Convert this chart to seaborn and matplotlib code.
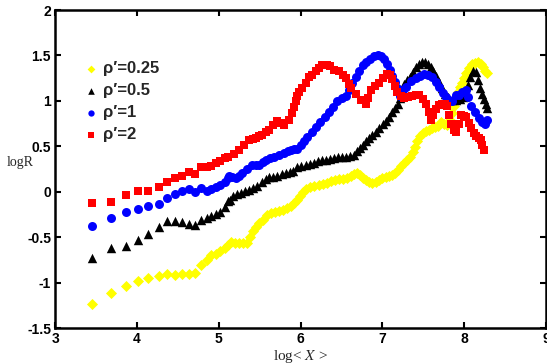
import numpy as np
import pandas as pd
import matplotlib
matplotlib.use('Agg')
import matplotlib.pyplot as plt
import seaborn as sns
from matplotlib.ticker import FormatStrFormatter

sns.set_theme(style='ticks')
plt.rcParams['font.family'] = ['Liberation Sans', 'DejaVu Sans']
plt.rcParams['axes.unicode_minus'] = False
plt.rcParams['mathtext.fontset'] = 'stix'

# ---------------- data ----------------
# sparse part shared by all four curves
x_sparse = [3.45, 3.68, 3.86, 4.01, 4.14, 4.27, 4.37, 4.47, 4.55, 4.63, 4.71, 4.78,
            4.85, 4.91, 4.96, 5.02, 5.07, 5.11]
ys_025 = [-1.23, -1.11, -1.04, -0.98, -0.95, -0.92, -0.90, -0.91, -0.90, -0.90, -0.89,
          -0.80, -0.745, -0.69, -0.68, -0.65, -0.62, -0.58]
ys_05 = [-0.73, -0.62, -0.59, -0.525, -0.46, -0.39, -0.32, -0.32, -0.33, -0.35, -0.36,
         -0.31, -0.29, -0.26, -0.24, -0.22, -0.165, -0.10]
ys_1 = [-0.37, -0.29, -0.22, -0.19, -0.15, -0.13, -0.07, -0.02, 0.01, 0.03, 0.0,
        0.04, 0.01, 0.03, 0.05, 0.08, 0.11, 0.15]
ys_2 = [-0.12, -0.11, -0.03, 0.01, 0.01, 0.05, 0.11, 0.15, 0.18, 0.22, 0.20,
        0.27, 0.27, 0.28, 0.315, 0.34, 0.37, 0.385]

# dense part, rho'=0.25
x_025 = [5.155, 5.204, 5.252, 5.301, 5.350, 5.387, 5.423, 5.460, 5.496, 5.545, 5.594, 5.643,
         5.691, 5.740, 5.789, 5.838, 5.887, 5.923, 5.960, 5.996, 6.033, 6.070, 6.118, 6.167,
         6.228, 6.277, 6.326, 6.374, 6.423, 6.472, 6.521, 6.570, 6.618, 6.655, 6.691, 6.728,
         6.765, 6.801, 6.838, 6.874, 6.923, 6.960, 6.996, 7.045, 7.082, 7.118, 7.155, 7.191,
         7.228, 7.265, 7.301, 7.338, 7.374, 7.399, 7.423, 7.460, 7.496, 7.533, 7.570, 7.606,
         7.643, 7.679, 7.716, 7.752, 7.789, 7.826, 7.850, 7.874, 7.899, 7.923, 7.948, 7.972,
         7.996, 8.021, 8.057, 8.094, 8.130, 8.167, 8.204, 8.228, 8.252, 8.277]
y_025 = [-0.547, -0.558, -0.558, -0.558, -0.558, -0.492, -0.426, -0.382, -0.338, -0.305, -0.250, -0.228,
         -0.217, -0.206, -0.195, -0.173, -0.151, -0.118, -0.085, -0.041, 0.003, 0.036, 0.058, 0.069,
         0.080, 0.091, 0.102, 0.124, 0.135, 0.146, 0.146, 0.157, 0.179, 0.201, 0.212, 0.190,
         0.157, 0.135, 0.113, 0.102, 0.113, 0.135, 0.157, 0.168, 0.179, 0.190, 0.212, 0.245,
         0.289, 0.322, 0.355, 0.388, 0.443, 0.498, 0.564, 0.619, 0.652, 0.674, 0.685, 0.707,
         0.718, 0.729, 0.773, 0.751, 0.740, 0.795, 0.872, 0.949, 1.037, 1.103, 1.158, 1.202,
         1.257, 1.312, 1.367, 1.411, 1.42, 1.43, 1.41, 1.378, 1.334, 1.312]

# dense part, rho'=0.5
x_05 = [5.143, 5.179, 5.228, 5.277, 5.326, 5.374, 5.423, 5.472, 5.533, 5.582, 5.618, 5.667,
        5.716, 5.777, 5.826, 5.874, 5.911, 5.960, 6.009, 6.070, 6.118, 6.167, 6.216, 6.265,
        6.313, 6.362, 6.411, 6.460, 6.509, 6.557, 6.606, 6.655, 6.691, 6.728, 6.765, 6.801,
        6.838, 6.874, 6.923, 6.960, 7.009, 7.045, 7.082, 7.118, 7.155, 7.191, 7.216, 7.240,
        7.265, 7.301, 7.338, 7.374, 7.411, 7.448, 7.484, 7.521, 7.557, 7.594, 7.618, 7.655,
        7.691, 7.728, 7.765, 7.801, 7.850, 7.899, 7.948, 7.984, 8.021, 8.045, 8.070, 8.106,
        8.143, 8.167, 8.191, 8.216, 8.240, 8.265, 8.277]
y_05 = [-0.085, -0.041, -0.019, -0.008, 0.014, 0.025, 0.047, 0.069, 0.113, 0.146, 0.168, 0.168,
        0.179, 0.201, 0.212, 0.223, 0.234, 0.278, 0.289, 0.300, 0.311, 0.322, 0.344, 0.355,
        0.355, 0.366, 0.377, 0.388, 0.388, 0.388, 0.399, 0.410, 0.454, 0.487, 0.520, 0.564,
        0.597, 0.630, 0.663, 0.707, 0.751, 0.784, 0.828, 0.883, 0.927, 0.971, 1.037, 1.125,
        1.191, 1.235, 1.268, 1.323, 1.378, 1.41, 1.43, 1.43, 1.41, 1.37, 1.334, 1.279,
        1.213, 1.147, 1.081, 1.048, 1.015, 1.015, 1.026, 1.048, 1.103, 1.180, 1.268, 1.334,
        1.323, 1.235, 1.147, 1.081, 1.026, 0.971, 0.927]

# dense part, rho'=1
x_1 = [5.130, 5.167, 5.216, 5.252, 5.289, 5.350, 5.411, 5.460, 5.496, 5.545, 5.582, 5.630,
       5.679, 5.740, 5.801, 5.850, 5.887, 5.923, 5.960, 6.009, 6.045, 6.082, 6.143, 6.192,
       6.240, 6.301, 6.350, 6.399, 6.448, 6.509, 6.557, 6.594, 6.630, 6.679, 6.716, 6.765,
       6.801, 6.850, 6.899, 6.948, 6.984, 7.021, 7.057, 7.094, 7.118, 7.155, 7.179, 7.216,
       7.252, 7.289, 7.350, 7.411, 7.460, 7.509, 7.557, 7.606, 7.655, 7.691, 7.740, 7.777,
       7.813, 7.850, 7.899, 7.935, 7.972, 8.021, 8.045, 8.082, 8.130, 8.179, 8.216, 8.252,
       8.277]
y_1 = [0.172, 0.168, 0.157, 0.179, 0.212, 0.256, 0.300, 0.300, 0.300, 0.333, 0.355, 0.377,
       0.388, 0.410, 0.432, 0.454, 0.465, 0.471, 0.476, 0.520, 0.564, 0.608, 0.663, 0.718,
       0.773, 0.828, 0.883, 0.938, 1.004, 1.037, 1.059, 1.125, 1.202, 1.268, 1.334, 1.400,
       1.433, 1.465, 1.49, 1.51, 1.49, 1.46, 1.411, 1.345, 1.279, 1.213, 1.147, 1.059,
       1.125, 1.158, 1.224, 1.257, 1.279, 1.301, 1.290, 1.268, 1.213, 1.158, 1.092, 1.048,
       1.015, 1.004, 1.070, 1.070, 1.103, 1.125, 1.048, 0.949, 0.883, 0.817, 0.773, 0.751,
       0.795]

# dense part, rho'=2
x_2 = [5.191, 5.252, 5.313, 5.374, 5.417, 5.460, 5.497, 5.533, 5.575, 5.618, 5.667, 5.716,
       5.765, 5.801, 5.862, 5.899, 5.923, 5.942, 5.960, 5.984, 6.021, 6.070, 6.106, 6.143,
       6.192, 6.228, 6.265, 6.326, 6.363, 6.411, 6.472, 6.521, 6.557, 6.594, 6.618, 6.679,
       6.740, 6.801, 6.826, 6.862, 6.911, 6.960, 7.009, 7.057, 7.094, 7.118, 7.155, 7.179,
       7.228, 7.265, 7.313, 7.362, 7.411, 7.448, 7.496, 7.533, 7.570, 7.594, 7.618, 7.655,
       7.691, 7.728, 7.765, 7.789, 7.814, 7.838, 7.874, 7.899, 7.935, 7.960, 7.996, 8.021,
       8.057, 8.082, 8.118, 8.143, 8.179, 8.204, 8.216, 8.240]
y_2 = [0.421, 0.465, 0.52, 0.575, 0.586, 0.597, 0.61, 0.63, 0.66, 0.685, 0.74, 0.784,
       0.762, 0.74, 0.795, 0.872, 0.938, 1.004, 1.06, 1.10, 1.147, 1.202, 1.268, 1.29,
       1.33, 1.36, 1.39, 1.40, 1.385, 1.345, 1.334, 1.29, 1.257, 1.191, 1.147, 1.081,
       1.015, 0.971, 1.037, 1.125, 1.169, 1.202, 1.257, 1.30, 1.28, 1.246, 1.169, 1.103,
       1.059, 1.037, 1.048, 1.059, 1.070, 1.070, 1.026, 0.971, 0.883, 0.795, 0.85, 0.916,
       0.960, 0.971, 0.971, 0.949, 0.85, 0.751, 0.685, 0.663, 0.751, 0.85, 0.839, 0.828,
       0.762, 0.707, 0.652, 0.619, 0.597, 0.575, 0.520, 0.465]

labels = ["ρ′=0.25", "ρ′=0.5", "ρ′=1", "ρ′=2"]

# ---------------- plot ----------------
fig = plt.figure(figsize=(5.47, 3.64), dpi=100)
ax = fig.add_axes([0.101, 0.098, 0.897, 0.8745])

series = [
    (labels[0], x_sparse + x_025, ys_025 + y_025, 'D', '#ffff00', 32),
    (labels[1], x_sparse + x_05, ys_05 + y_05, '^', '#000000', 46),
    (labels[2], x_sparse + x_1, ys_1 + y_1, 'o', '#0000ff', 42),
    (labels[3], x_sparse + x_2, ys_2 + y_2, 's', '#ff0000', 36),
]
for lab, xs, ys, mk, col, sz in series:
    df = pd.DataFrame({'logX': xs, 'logR': ys})
    sns.scatterplot(data=df, x='logX', y='logR', marker=mk, color=col, s=sz,
                    linewidth=0, label=lab, ax=ax)

ax.set_xlim(3, 9)
ax.set_ylim(-1.5, 2)
ax.set_xticks(range(3, 10))
ax.set_yticks([-1.5, -1, -0.5, 0, 0.5, 1, 1.5, 2])
ax.yaxis.set_major_formatter(FormatStrFormatter('%g'))
ax.tick_params(direction='in', length=4, width=1.5, top=True, right=True,
               labelsize=10, pad=3, colors='black')
plt.setp(ax.get_xticklabels() + ax.get_yticklabels(), fontweight='bold')
for sp in ax.spines.values():
    sp.set_linewidth(1.8)
    sp.set_color('black')

ax.set_xlabel('log< $X$ >', family=['Liberation Serif'], fontsize=11, labelpad=1)
ax.set_ylabel('logR', family=['Liberation Serif'], fontsize=10, rotation=0,
              ha='center', va='center')
ax.yaxis.set_label_coords(-0.072, 0.522)

ax.legend(loc='upper left', bbox_to_anchor=(0.04, 0.86), frameon=False,
          handletextpad=0.2, labelspacing=0.42, handlelength=1.1, borderaxespad=0,
          markerscale=0.7, prop={'weight': 'bold', 'size': 12})

fig.savefig('out.png', dpi=100)
